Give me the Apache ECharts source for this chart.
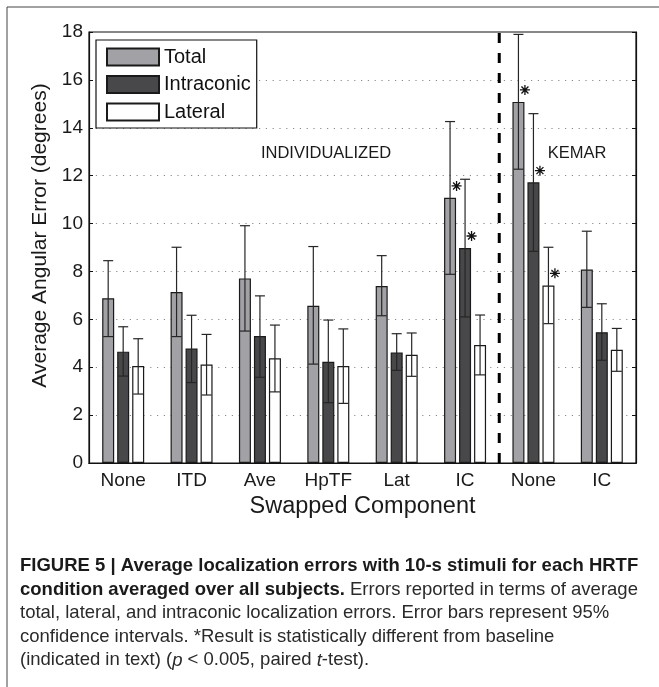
<!DOCTYPE html>
<html><head><meta charset="utf-8">
<script src="https://cdn.jsdelivr.net/npm/echarts@6/dist/echarts.min.js"></script>
<style>html,body{margin:0;padding:0;background:#fff}#c{width:659px;height:687px}</style>
</head><body><div id="c"></div>
<script>
const categories = ['None','ITD','Ave','HpTF','Lat','IC','None','IC'];
const groupNames = ['INDIVIDUALIZED','KEMAR'];
const groupSizes = [6, 2];
const yTicks = [0,2,4,6,8,10,12,14,16,18];

const total   = [6.88, 7.14, 7.71, 6.57, 7.39, 11.08, 15.08, 8.08];
const totalLo = [5.28, 5.28, 5.51, 4.13, 6.15, 7.88, 12.27, 6.50];
const totalHi = [8.45, 9.01, 9.91, 9.04, 8.66, 14.26, 17.90, 9.68];
const intra   = [4.65, 4.78, 5.30, 4.23, 4.62, 8.98, 11.72, 5.46];
const intraLo = [3.63, 3.36, 3.58, 2.52, 3.87, 6.10, 8.84, 4.29];
const intraHi = [5.69, 6.17, 6.98, 5.97, 5.40, 11.85, 14.59, 6.65];
const lat     = [4.05, 4.11, 4.37, 4.05, 4.52, 4.93, 7.41, 4.73];
const latLo   = [2.88, 2.84, 2.97, 2.49, 3.62, 3.68, 5.82, 3.83];
const latHi   = [5.19, 5.37, 5.76, 5.60, 5.43, 6.18, 9.01, 5.62];
const starTotal = [null, null, null, null, null, 11.57, 15.58, null];
const starIntra = [null, null, null, null, null, 9.48, 12.21, null];
const starLat   = [null, null, null, null, null, null, 7.92, null];

const FONT = 'Liberation Sans, Arial, Helvetica, sans-serif';
const CAPFONT = '"Liberation Sans Narrow", "Liberation Sans", Arial, sans-serif';
const chart = echarts.init(document.getElementById('c'), null, {renderer: 'canvas'});

const BW = 12, SLOT = 15;
function errSeries(name, lo, hi, off) {
  return {
    type: 'custom', name: name + '_err', z: 5, silent: true,
    xAxisIndex: 0, yAxisIndex: 0,
    data: categories.map((c, i) => [i, lo[i], hi[i]]),
    encode: {x: 0, y: [1, 2]},
    renderItem: function (params, api) {
      const a = api.coord([api.value(0), api.value(1)]);
      const b = api.coord([api.value(0), api.value(2)]);
      const x = a[0] + off;
      const st = {stroke: '#262626', lineWidth: 1.2};
      return {type: 'group', children: [
        {type: 'line', shape: {x1: x, y1: a[1], x2: x, y2: b[1]}, style: st},
        {type: 'line', shape: {x1: x - 5, y1: a[1], x2: x + 5, y2: a[1]}, style: st},
        {type: 'line', shape: {x1: x - 5, y1: b[1], x2: x + 5, y2: b[1]}, style: st}
      ]};
    }
  };
}
const starPath = 'path://M5,0L5,10M0,5L10,5M1.5,1.5L8.5,8.5M1.5,8.5L8.5,1.5';
function starSeries(vals, off) {
  return {
    type: 'scatter', z: 6, silent: true, xAxisIndex: 0, yAxisIndex: 0,
    data: vals.map(v => v === null ? '-' : v),
    symbol: starPath, symbolSize: [10, 10], symbolOffset: [off, 0],
    itemStyle: {color: 'rgba(0,0,0,0)', borderColor: '#111', borderWidth: 1.3, opacity: 1}
  };
}
const nCat = categories.length;
const sepPos = groupSizes[0];

const lineTop = 566, lineStep = 23.6;
const capLines = [
  [{t: 'FIGURE 5 | Average localization errors with 10-s stimuli for each HRTF', s: 'b'}],
  [{t: 'condition averaged over all subjects.', s: 'b'}, {t: ' Errors reported in terms of average', s: 'n'}],
  [{t: 'total, lateral, and intraconic localization errors. Error bars represent 95%', s: 'n'}],
  [{t: 'confidence intervals. *Result is statistically different from baseline', s: 'n'}],
  [{t: '(indicated in text) (', s: 'n'}, {t: 'p', s: 'i'}, {t: ' < 0.005, paired ', s: 'n'}, {t: 't', s: 'i'}, {t: '-test).', s: 'n'}]
];
const CFS = 18.5;
const capGraphics = capLines.map((parts, k) => ({
  type: 'text', x: 20, y: lineTop + k * lineStep,
  style: {
    text: parts.map(p => '{' + p.s + '|' + p.t + '}').join(''),
    textVerticalAlign: 'middle', verticalAlign: 'middle',
    rich: {
      b: {fontFamily: CAPFONT, fontSize: CFS, fontWeight: 'bold', fill: '#1a1a1a'},
      n: {fontFamily: CAPFONT, fontSize: CFS, fill: '#2a2a2a'},
      i: {fontFamily: CAPFONT, fontSize: CFS, fontStyle: 'italic', fill: '#2a2a2a'}
    }
  }
}));

chart.setOption({
  animation: false,
  backgroundColor: '#fff',
  textStyle: {fontFamily: FONT},
  grid: {left: 89, right: 23, top: 32, bottom: 224, show: true, borderColor: '#111', borderWidth: 1.2, backgroundColor: '#fff'},
  legend: {
    orient: 'vertical', left: 96, top: 40, padding: [7, 6, 6, 10],
    itemWidth: 52, itemHeight: 17, itemGap: 7.5, icon: 'rect',
    borderColor: '#111', borderWidth: 1.2, backgroundColor: '#fff',
    textStyle: {fontSize: 20, color: '#111', fontFamily: FONT},
    data: ['Total', 'Intraconic', 'Lateral'], z: 10
  },
  xAxis: [
    {type: 'category', data: categories, position: 'bottom',
     axisLine: {lineStyle: {color: '#111', width: 1.2}},
     axisTick: {inside: true, alignWithLabel: true, length: 5, lineStyle: {color: '#111'}},
     axisLabel: {fontSize: 19, color: '#1a1a1a', margin: 8, interval: 0},
     name: 'Swapped Component', nameLocation: 'middle', nameGap: 31,
     nameTextStyle: {fontSize: 23.5, color: '#1a1a1a'}},
    {type: 'category', data: categories, position: 'top',
     axisLine: {show: true, lineStyle: {color: '#111', width: 1.2}},
     axisTick: {inside: true, alignWithLabel: true, length: 5, lineStyle: {color: '#111'}},
     axisLabel: {show: false}},
    {type: 'value', min: 0, max: nCat, show: false}
  ],
  yAxis: [
    {type: 'value', min: yTicks[0], max: yTicks[yTicks.length - 1], interval: 2, position: 'left',
     axisLine: {show: true, lineStyle: {color: '#111', width: 1.2}},
     axisTick: {show: true, inside: true, length: 4, lineStyle: {color: '#111'}},
     axisLabel: {fontSize: 19, color: '#1a1a1a', margin: 6},
     splitLine: {show: true, lineStyle: {color: '#8a8a8a', type: [1.2, 5.6], width: 1}},
     name: 'Average Angular Error (degrees)', nameLocation: 'middle', nameGap: 38,
     nameTextStyle: {fontSize: 21, color: '#1a1a1a', padding: [0, 0, 0, 24]}},
    {type: 'value', min: yTicks[0], max: yTicks[yTicks.length - 1], interval: 2, position: 'right',
     axisLine: {show: true, lineStyle: {color: '#111', width: 1.2}},
     axisTick: {show: true, inside: true, length: 4, lineStyle: {color: '#111'}},
     axisLabel: {show: false}, splitLine: {show: false}}
  ],
  series: [
    {name: 'Total', type: 'bar', data: total, barWidth: BW, barGap: '25%',
     itemStyle: {color: '#a2a2a6', borderColor: '#1a1a1a', borderWidth: 1.2}},
    {name: 'Intraconic', type: 'bar', data: intra, barWidth: BW, barGap: '25%',
     itemStyle: {color: '#48484b', borderColor: '#1a1a1a', borderWidth: 1.2}},
    {name: 'Lateral', type: 'bar', data: lat, barWidth: BW, barGap: '25%',
     itemStyle: {color: '#ffffff', borderColor: '#1a1a1a', borderWidth: 1.2}},
    errSeries('Total', totalLo, totalHi, -SLOT),
    errSeries('Intraconic', intraLo, intraHi, 0),
    errSeries('Lateral', latLo, latHi, SLOT),
    starSeries(starTotal, -SLOT + 6.5),
    starSeries(starIntra, 6.5),
    starSeries(starLat, SLOT + 6.5),
    {type: 'line', xAxisIndex: 2, yAxisIndex: 0, z: 4, silent: true, symbol: 'none',
     data: [[sepPos, yTicks[0]], [sepPos, yTicks[yTicks.length - 1]]],
     lineStyle: {color: '#000', width: 3, type: [10, 10]}}
  ],
  graphic: [
    {type: 'line', shape: {x1: 7, y1: 7, x2: 659, y2: 7}, style: {stroke: '#444', lineWidth: 1}},
    {type: 'line', shape: {x1: 7, y1: 7, x2: 7, y2: 687}, style: {stroke: '#444', lineWidth: 1}},
    {type: 'text', x: 326, y: 153, style: {text: groupNames[0], fontFamily: FONT, fontSize: 16.5, fill: '#1a1a1a', textAlign: 'center', textVerticalAlign: 'middle'}, z: 10},
    {type: 'text', x: 577, y: 153, style: {text: groupNames[1], fontFamily: FONT, fontSize: 16.5, fill: '#1a1a1a', textAlign: 'center', textVerticalAlign: 'middle'}, z: 10}
  ].concat(capGraphics)
});
</script></body></html>
